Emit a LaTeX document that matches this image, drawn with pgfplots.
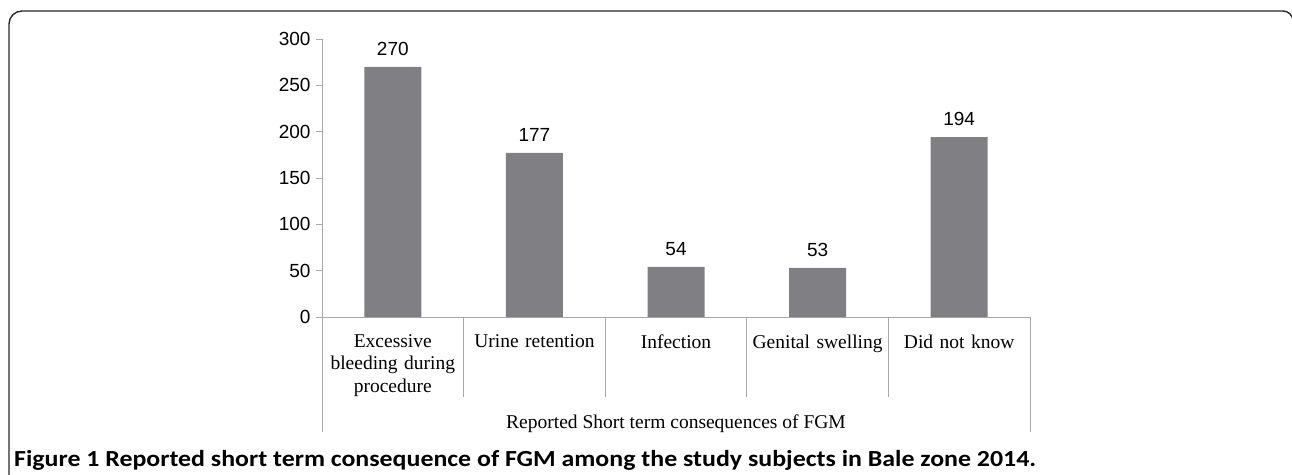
\documentclass[border=0pt]{standalone}
\usepackage{pgfplots}
\pgfplotsset{compat=1.18}
\usepackage{fontspec}
\setmainfont{Liberation Serif}
\newfontfamily\numfont{Liberation Sans}
\newfontfamily\capfont{Carlito}[FakeStretch=1.125]
\definecolor{barc}{RGB}{128,128,132}
\definecolor{axc}{RGB}{168,168,168}
\definecolor{framec}{RGB}{40,40,40}

\begin{document}
\begin{tikzpicture}[x=1pt,y=1pt]
\useasboundingbox (0,0) rectangle (1292,474);
\draw[line width=1.4pt, framec] (9,-5) -- (9,450) arc[start angle=180,end angle=90,radius=13] -- (1283,463) arc[start angle=90,end angle=0,radius=10] -- (1293,-5);

\begin{axis}[
  at={(322pt,157pt)}, anchor=south west,
  scale only axis, width=708pt, height=278pt,
  xmin=-0.5, xmax=4.5, ymin=0, ymax=300,
  axis lines*=left,
  axis line style={draw=axc, line width=0.9pt},
  ytick={0,50,...,300},
  tick align=outside, major tick length=6pt,
  ytick style={draw=axc, line width=0.9pt},
  xtick={0,...,4},
  xticklabels={{Excessive\\bleeding during\\procedure},{Urine retention},{Infection},{Genital swelling},{Did not know}},
  xtick style={draw=none},
  x tick label style={font=\fontsize{19.5}{22.5}\selectfont, align=center, text width=140pt, yshift=-8pt},
  y tick label style={font=\numfont\fontsize{19}{23}\selectfont, xshift=-2pt},
  /pgf/number format/assume math mode=true,
  ybar, bar width=57pt,
  nodes near coords,
  every node near coord/.append style={font=\numfont\fontsize{19}{23}\selectfont, black, yshift=8pt},
  clip=false,
]
\addplot[fill=barc, draw=none] coordinates {(0,270) (1,177) (2,54) (3,53) (4,194)};
\draw[axc, line width=0.9pt] (axis cs:0.5,0) -- ([yshift=-80pt]axis cs:0.5,0);
\draw[axc, line width=0.9pt] (axis cs:1.5,0) -- ([yshift=-80pt]axis cs:1.5,0);
\draw[axc, line width=0.9pt] (axis cs:2.5,0) -- ([yshift=-80pt]axis cs:2.5,0);
\draw[axc, line width=0.9pt] (axis cs:3.5,0) -- ([yshift=-80pt]axis cs:3.5,0);
\draw[axc, line width=0.9pt] (axis cs:-0.5,0) -- ([yshift=-115pt]axis cs:-0.5,0);
\draw[axc, line width=0.9pt] (axis cs:4.5,0) -- ([yshift=-115pt]axis cs:4.5,0);
\end{axis}

\node[anchor=base, inner sep=0pt, font=\fontsize{19.5}{23}\selectfont] at (676,46) {Reported Short term consequences of FGM};
\node[anchor=base west, inner sep=0pt, font=\capfont\bfseries\fontsize{23}{27}\selectfont] at (14,8) {Figure 1 Reported short term consequence of FGM among the study subjects in Bale zone 2014.};
\end{tikzpicture}
\end{document}
